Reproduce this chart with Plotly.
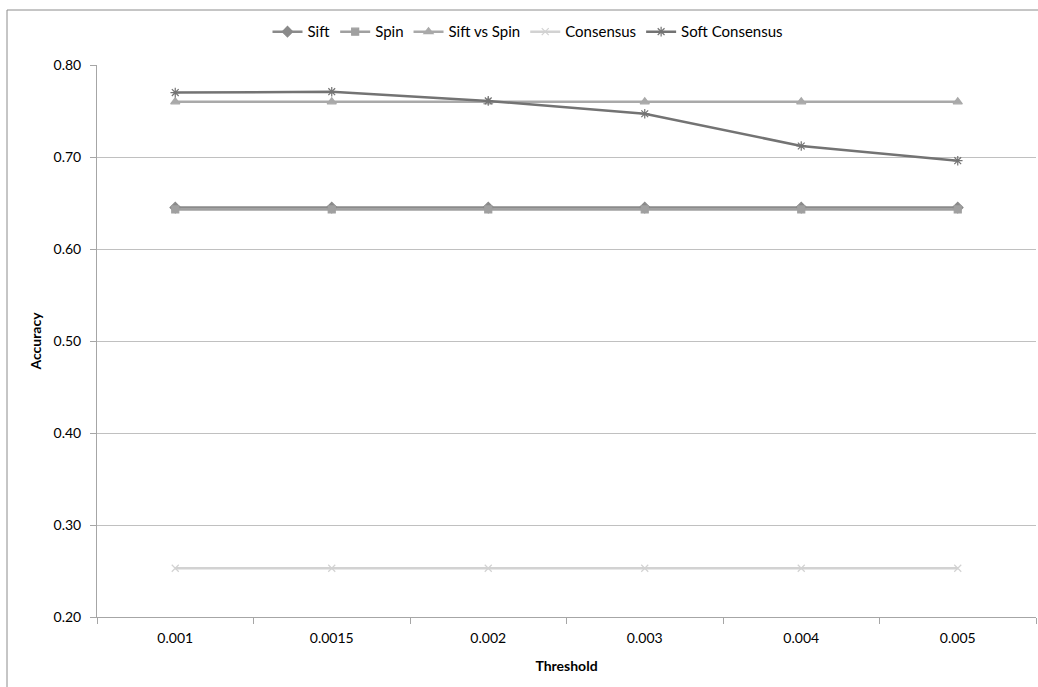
import plotly.graph_objects as go

thresholds = ["0.001", "0.0015", "0.002", "0.003", "0.004", "0.005"]
sift = [0.645, 0.645, 0.645, 0.645, 0.645, 0.645]
spin = [0.643, 0.643, 0.643, 0.643, 0.643, 0.643]
sift_vs_spin = [0.760, 0.760, 0.760, 0.760, 0.760, 0.760]
consensus = [0.253, 0.253, 0.253, 0.253, 0.253, 0.253]
soft_consensus = [0.770, 0.771, 0.761, 0.747, 0.712, 0.696]

series = [
    ("Sift", sift, "#8a8a8a", "diamond", 8),
    ("Spin", spin, "#a0a0a0", "square", 7),
    ("Sift vs Spin", sift_vs_spin, "#a9a9a9", "triangle-up", 8),
    ("Consensus", consensus, "#d2d2d2", "x-thin-open", 7),
    ("Soft Consensus", soft_consensus, "#737373", "asterisk-open", 8),
]

fig = go.Figure()
for name, vals, color, sym, size in series:
    fig.add_trace(go.Scatter(
        x=thresholds, y=vals, name=name, mode="lines+markers",
        line=dict(color=color, width=2.5),
        marker=dict(symbol=sym, size=size, color=color,
                    line=dict(color=color, width=1.2)),
    ))

font = "Lato, 'Open Sans', sans-serif"
fig.update_layout(
    width=1038, height=687,
    margin=dict(l=97, r=2, t=65, b=70),
    paper_bgcolor="white", plot_bgcolor="white",
    font=dict(family=font, size=14, color="#000000"),
    showlegend=True,
    legend=dict(orientation="h", x=0.459, xanchor="center", y=1.06, yanchor="middle",
                font=dict(size=15), itemwidth=30, traceorder="normal",
                bgcolor="rgba(0,0,0,0)"),
    xaxis=dict(
        type="category", range=[-0.5, 5.5],
        title=dict(text="<b>Threshold</b>", font=dict(size=14), standoff=16),
        showline=True, linecolor="#a6a6a6", linewidth=1,
        ticks="outside", ticklen=6, tickcolor="#a6a6a6", tickson="boundaries",
        ticklabelstandoff=8,
        showgrid=False, tickfont=dict(size=14),
    ),
    yaxis=dict(
        range=[0.2, 0.8], dtick=0.1, tickformat=".2f",
        title=dict(text="<b>Accuracy</b>", font=dict(size=14), standoff=8),
        showline=True, linecolor="#a6a6a6", linewidth=1,
        ticks="outside", ticklen=6, tickcolor="#a6a6a6",
        ticklabelstandoff=6,
        showgrid=True, gridcolor="#c0c0c0", gridwidth=1, zeroline=False,
        tickfont=dict(size=14),
    ),
    shapes=[
        dict(type="rect", xref="paper", yref="paper",
             x0=(7 - 97) / 939, x1=1.05, y0=-0.2, y1=1 + (65 - 10) / 552,
             line=dict(color="#8c8c8c", width=1), fillcolor="rgba(0,0,0,0)", layer="below"),
    ],
)

fig.write_html("out.html")
